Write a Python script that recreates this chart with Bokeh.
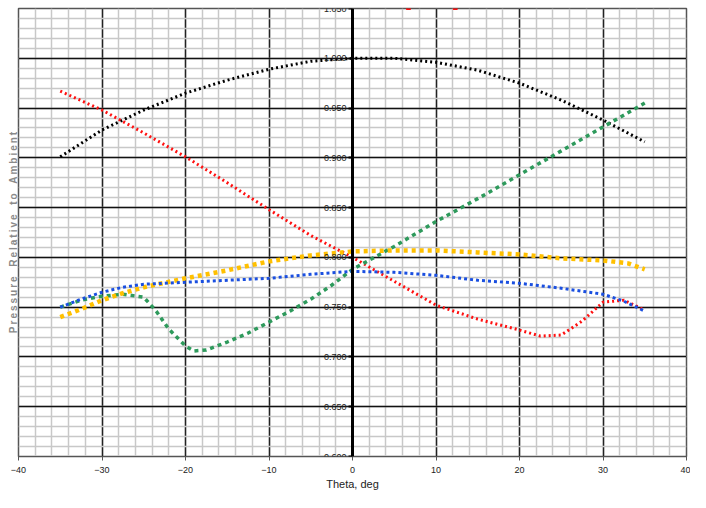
from bokeh.plotting import figure
from bokeh.models import Range1d, FixedTicker, NumeralTickFormatter, LinearAxis, Grid
from bokeh.embed import file_html
from bokeh.resources import INLINE

# data
theta_black = [-35, -30, -25, -20, -15, -10, -5, 0, 5, 10, 15, 20, 25, 30, 35]
black = [0.901, 0.928, 0.948, 0.965, 0.978, 0.989, 0.997, 1.000, 1.000, 0.996, 0.988, 0.975, 0.958, 0.938, 0.916]

theta_red = [-35, -30, -25, -20, -15, -10, -5, 0, 5, 10, 15, 20, 22.5, 25, 27.5, 30, 32.5, 35]
red = [0.967, 0.948, 0.925, 0.901, 0.875, 0.848, 0.822, 0.800, 0.776, 0.752, 0.738, 0.727, 0.721, 0.722, 0.736, 0.755, 0.757, 0.747]
theta_red_top = [6.7, 12.3]
red_top = [1.051, 1.051]

theta_green = [-35, -32.5, -30, -27.5, -25, -23.5, -22, -20, -19, -17.5, -15, -12.5, -10, -7.5, -5, -2.5, 0, 5, 10, 15, 20, 25, 30, 35]
green = [0.750, 0.757, 0.761, 0.763, 0.760, 0.746, 0.728, 0.711, 0.706, 0.707, 0.715, 0.724, 0.735, 0.746, 0.758, 0.772, 0.788, 0.811, 0.836, 0.859, 0.883, 0.907, 0.931, 0.955]

theta_yellow = [-35, -32.5, -30, -27.5, -25, -20, -15, -10, -5, 0, 5, 10, 15, 20, 25, 30, 33, 35]
yellow = [0.740, 0.748, 0.757, 0.764, 0.770, 0.779, 0.787, 0.796, 0.802, 0.806, 0.807, 0.807, 0.805, 0.803, 0.799, 0.797, 0.794, 0.788]

theta_blue = [-35, -32.5, -30, -27.5, -25, -20, -15, -10, -5, 0, 5, 10, 15, 20, 25, 30, 32.5, 35]
blue = [0.750, 0.758, 0.765, 0.770, 0.773, 0.775, 0.777, 0.779, 0.783, 0.786, 0.785, 0.782, 0.777, 0.774, 0.769, 0.763, 0.756, 0.746]

x_ticks = [-40, -30, -20, -10, 0, 10, 20, 30, 40]
x_minor = list(range(-40, 41, 2))
y_ticks = [0.600, 0.650, 0.700, 0.750, 0.800, 0.850, 0.900, 0.950, 1.000, 1.050]
y_minor = [round(0.60 + 0.01 * i, 2) for i in range(46)]

y_title = "Pressure Relative to Ambient"

narrow = "Liberation Sans Narrow, Arial Narrow, sans-serif"

p = figure(width=690, height=492, output_backend="svg", toolbar_location=None,
           x_range=Range1d(-40, 40), y_range=Range1d(0.6, 1.05),
           min_border_left=18, min_border_right=4, min_border_top=8, min_border_bottom=35,
           y_axis_location=None)
p.background_fill_color = "white"
p.border_fill_color = "white"
p.outline_line_color = "#555555"
p.outline_line_width = 1.5

# x axis
p.xaxis.ticker = FixedTicker(ticks=x_ticks, minor_ticks=x_minor)
p.xaxis.axis_label = "Theta, deg"
p.xaxis.axis_label_text_font = narrow
p.xaxis.axis_label_text_font_style = "normal"
p.xaxis.axis_label_text_font_size = "11px"
p.xaxis.axis_label_text_color = "#222222"
p.xaxis.axis_label_standoff = 2
p.xaxis.major_label_text_font = narrow
p.xaxis.major_label_text_font_size = "9px"
p.xaxis.major_label_text_color = "#222222"
p.xaxis.major_label_standoff = 6
p.xaxis.major_tick_out = 4
p.xaxis.major_tick_in = 0
p.xaxis.major_tick_line_color = "#555555"
p.xaxis.minor_tick_line_color = None
p.xaxis.axis_line_color = "#555555"

# y axis fixed at theta = 0
yax = LinearAxis(fixed_location=0,
                 ticker=FixedTicker(ticks=y_ticks, minor_ticks=y_minor),
                 formatter=NumeralTickFormatter(format="0.000"))
yax.axis_line_width = 3
yax.axis_line_color = "black"
yax.major_tick_out = 4
yax.major_tick_in = 0
yax.major_tick_line_width = 2
yax.minor_tick_line_color = None
yax.major_label_text_font = narrow
yax.major_label_text_font_size = "9px"
yax.major_label_text_color = "#222222"
yax.major_label_standoff = 2
p.add_layout(yax, "left")

# left axis for the title only (letter-spaced)
spaced = "\u2009".join(ch if ch != " " else "\u00a0\u00a0" for ch in y_title)
lab = LinearAxis(axis_label=spaced, ticker=FixedTicker(ticks=[]))
lab.axis_line_color = None
lab.major_tick_line_color = None
lab.minor_tick_line_color = None
lab.major_label_text_font_size = "0px"
lab.axis_label_text_font = "Liberation Sans"
lab.axis_label_text_font_style = "bold"
lab.axis_label_text_font_size = "10px"
lab.axis_label_text_color = "#8a8a8a"
lab.axis_label_standoff = 0
p.add_layout(lab, "left")

# grids
p.xgrid.ticker = FixedTicker(ticks=x_ticks, minor_ticks=x_minor)
p.xgrid.grid_line_color = "#222222"
p.xgrid.grid_line_width = 1.5
p.xgrid.minor_grid_line_color = "#c8c8c8"
p.xgrid.minor_grid_line_width = 1.5
p.xgrid.level = "underlay"

yg = Grid(dimension=1, ticker=FixedTicker(ticks=y_ticks, minor_ticks=y_minor))
yg.grid_line_color = "#111111"
yg.grid_line_width = 1.5
yg.minor_grid_line_color = "#c8c8c8"
yg.minor_grid_line_width = 1.5
yg.level = "underlay"
p.add_layout(yg)

# series
p.line(theta_black, black, color="black", line_width=3, line_dash="2 3")
p.line(theta_red, red, color="#ff1010", line_width=3, line_dash="2 3")
p.scatter(theta_red_top, red_top, color="#ff1010", size=4, marker="square")
p.line(theta_green, green, color="#2e9a5c", line_width=3.5, line_dash="4 4")
p.line(theta_yellow, yellow, color="#ffc000", line_width=4.5, line_dash="4 4")
p.line(theta_blue, blue, color="#1a4fe0", line_width=3, line_dash="3 3")

open("out.html", "w").write(file_html(p, INLINE))
